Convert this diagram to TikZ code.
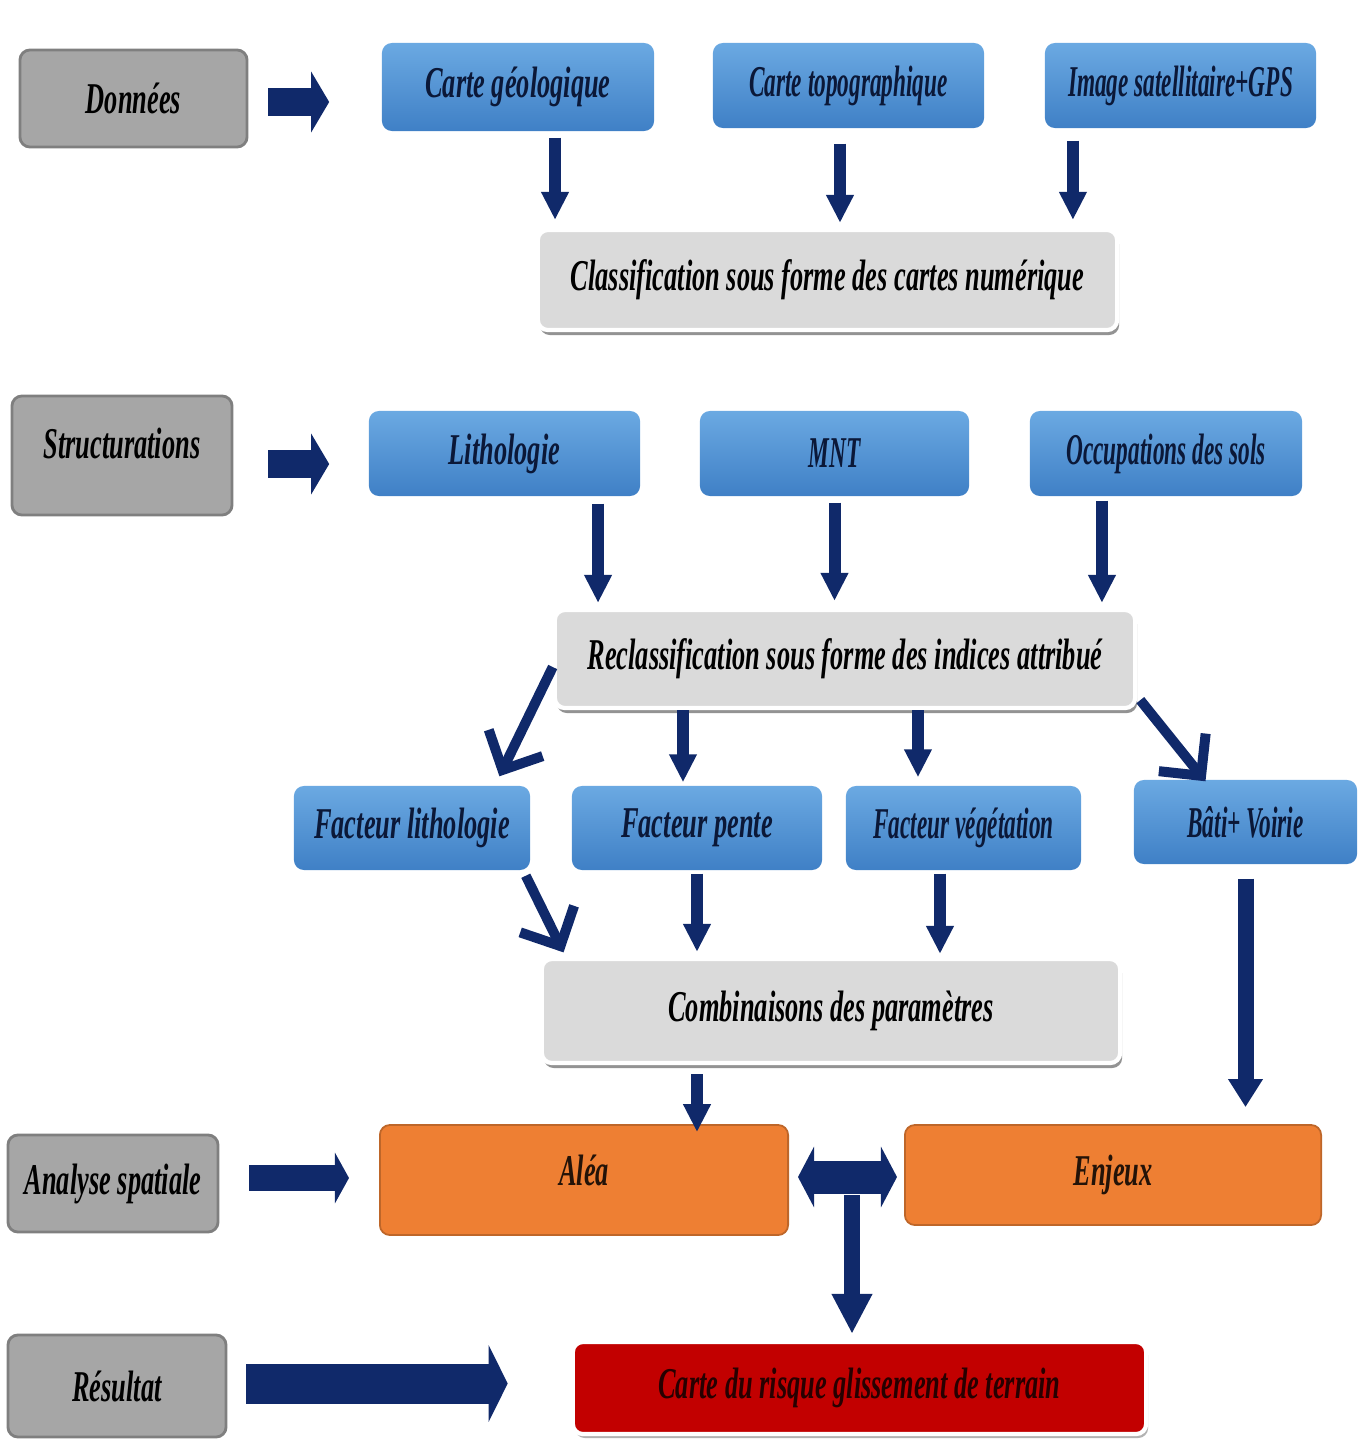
\documentclass[tikz,border=0pt]{standalone}
\usepackage{fontspec}
\setmainfont{Liberation Serif}[FakeStretch=0.6]
\newfontfamily\narrowfont{Liberation Serif}[FakeStretch=0.53]
\usetikzlibrary{arrows.meta,shadows}
\definecolor{navy}{HTML}{10296A}
\definecolor{labgray}{HTML}{A6A6A6}
\definecolor{labedge}{HTML}{7F7F7F}
\definecolor{paleg}{HTML}{DADADA}
\definecolor{bluetop}{HTML}{6BA9E2}
\definecolor{bluebot}{HTML}{3F80C6}
\definecolor{orng}{HTML}{EE7F33}
\definecolor{rouge}{HTML}{C20000}
\definecolor{ink}{HTML}{0B1838}

\begin{document}
\begin{tikzpicture}[x=0.01cm, y=-0.01cm,
    every node/.style={font=\fontsize{12.5}{14}\selectfont\bfseries\itshape, inner sep=0pt, rounded corners=0.1cm},
    narrow/.style={font=\fontsize{12.5}{14}\narrowfont\bfseries\itshape},
    lab/.style={fill=labgray, draw=labedge, line width=0.8pt},
    blu/.style={top color=bluetop, bottom color=bluebot, text=ink},
    pale/.style={fill=paleg, draw=white, line width=1.2pt, drop shadow={shadow xshift=0.02cm, shadow yshift=-0.05cm, fill=gray!85, opacity=1}},
    orange/.style={fill=orng, draw=orng!80!black, line width=0.5pt, text=black!85!orng},
    red/.style={fill=rouge, draw=white, line width=1.2pt, text=black!80!rouge, drop shadow={shadow xshift=0.02cm, shadow yshift=-0.04cm, fill=gray!60, opacity=1}},
    arr/.style={navy, line width=0.12cm, -{Triangle[width=0.26cm,length=0.28cm]}},
    barb/.style={navy, line width=0.1cm, -{Straight Barb[width=0.6cm,length=0.3cm]}},
    fat/.style={navy, line width=0.28cm, -{Triangle[width=0.6cm,length=0.18cm]}}]
    \useasboundingbox (0,0) rectangle (1368,1448);
    \node [lab, minimum width=2.27cm, minimum height=0.97cm] (donnees) at (133.5,98.5) {Données};
    \node [lab, minimum width=2.2cm, minimum height=1.19cm, text depth=0.25cm] (struct) at (122,455.5) {Structurations};
    \node [lab, minimum width=2.1cm, minimum height=0.97cm] (analyse) at (113,1183.5) {Analyse spatiale};
    \node [lab, minimum width=2.18cm, minimum height=1.02cm] (resultat) at (117,1386) {Résultat};
    \node [blu, minimum width=2.72cm, minimum height=0.88cm] (geol) at (518,87) {Carte géologique};
    \node [blu, narrow, minimum width=2.71cm, minimum height=0.85cm] (topo) at (848.5,85.5) {Carte topographique};
    \node [blu, narrow, minimum width=2.71cm, minimum height=0.85cm] (sat) at (1180.5,85.5) {Image satellitaire+GPS};
    \node [pale, minimum width=5.79cm, minimum height=1cm] (classif) at (827.5,280) {Classification sous forme des cartes numérique};
    \node [blu, minimum width=2.71cm, minimum height=0.85cm] (litho) at (504.5,453.5) {Lithologie};
    \node [blu, narrow, minimum width=2.69cm, minimum height=0.85cm] (mnt) at (834.5,453.5) {MNT};
    \node [blu, narrow, minimum width=2.72cm, minimum height=0.85cm] (occup) at (1166,453.5) {Occupations des sols};
    \node [pale, minimum width=5.8cm, minimum height=0.98cm] (reclass) at (845,659) {Reclassification sous forme des indices attribué};
    \node [blu, minimum width=2.36cm, minimum height=0.84cm] (factlitho) at (412,828) {Facteur lithologie};
    \node [blu, minimum width=2.5cm, minimum height=0.84cm] (pente) at (697,828) {Facteur pente};
    \node [blu, narrow, minimum width=2.35cm, minimum height=0.84cm] (vege) at (963.5,828) {Facteur végétation};
    \node [blu, narrow, minimum width=2.23cm, minimum height=0.84cm] (bati) at (1245.5,822) {Bâti+ Voirie};
    \node [pale, minimum width=5.78cm, minimum height=1.04cm] (comb) at (831,1011) {Combinaisons des paramètres};
    \node [orange, minimum width=4.08cm, minimum height=1.1cm, text depth=0.2cm] (alea) at (584,1180) {Aléa};
    \node [orange, minimum width=4.16cm, minimum height=1cm] (enjeux) at (1113,1175) {Enjeux};
    \node [red, minimum width=5.73cm, minimum height=0.92cm] (risque) at (859.5,1388) {Carte du risque glissement de terrain};
    \draw [fat, shorten <=0.2cm, shorten >=0.52cm] ([yshift=-0.035cm]donnees.east) -- ([yshift=-0.035cm]donnees.east -| geol.west);
    \draw [fat, shorten <=0.35cm, shorten >=0.39cm] ([yshift=-0.085cm]struct.east) -- ([yshift=-0.085cm]struct.east -| litho.west);
    \draw [fat, line width=0.26cm, -{Triangle[width=0.5cm,length=0.14cm]}, shorten <=0.3cm, shorten >=0.3cm] ([yshift=0.055cm]analyse.east) -- ([yshift=0.055cm]analyse.east -| alea.west);
    \draw [fat, line width=0.4cm, -{Triangle[width=0.76cm,length=0.19cm]}, shorten <=0.19cm, shorten >=0.63cm] ([yshift=0.025cm]resultat.east) -- ([yshift=0.025cm]resultat.east -| risque.west);
    \draw [fat, line width=0.33cm, {Triangle[width=0.6cm,length=0.16cm]}-{Triangle[width=0.6cm,length=0.16cm]}, shorten <=0.09cm, shorten >=0.07cm] ([yshift=0.03cm]alea.east) -- ([yshift=0.03cm]alea.east -| enjeux.west);
    \coordinate (mid) at (852,1195);
    \draw [fat, line width=0.16cm, -{Triangle[width=0.38cm,length=0.4cm]}, shorten >=0.06cm] (mid) -- (mid |- risque.north);
    \draw [arr, shorten <=0.06cm, shorten >=0.08cm] ([xshift=0.37cm]geol.south) -- ([xshift=0.37cm]geol.south |- classif.north);
    \draw [arr, shorten <=0.15cm, shorten >=0.05cm] ([xshift=-0.085cm]topo.south) -- ([xshift=-0.085cm]topo.south |- classif.north);
    \draw [arr, shorten <=0.12cm, shorten >=0.08cm] ([xshift=-1.075cm]sat.south) -- ([xshift=-1.075cm]sat.south |- classif.north);
    \draw [arr, shorten <=0.07cm, shorten >=0.05cm] ([xshift=0.935cm]litho.south) -- ([xshift=0.935cm]litho.south |- reclass.north);
    \draw [arr, shorten <=0.06cm, shorten >=0.07cm] (mnt.south) -- (mnt.south |- reclass.north);
    \draw [arr, shorten <=0.04cm, shorten >=0.05cm] ([xshift=-0.64cm]occup.south) -- ([xshift=-0.64cm]occup.south |- reclass.north);
    \draw [barb, shorten >=0.1cm] ([yshift=-0.08cm]reclass.west) -- ([xshift=0.83cm]factlitho.north);
    \draw [arr, shorten >=0.03cm] ([xshift=-0.14cm]pente.north |- reclass.south) -- ([xshift=-0.14cm]pente.north);
    \draw [arr, shorten >=0.08cm] ([xshift=-0.455cm]vege.north |- reclass.south) -- ([xshift=-0.455cm]vege.north);
    \draw [barb] ([xshift=0.03cm,yshift=0.1cm]reclass.south east) -- ([xshift=-0.4cm,yshift=-0.02cm]bati.north);
    \draw [barb, shorten >=0.05cm] ([xshift=-0.05cm,yshift=-0.05cm]factlitho.south east) -- ([xshift=0.26cm]comb.north west);
    \draw [arr, shorten <=0.03cm, shorten >=0.05cm] (pente.south) -- (pente.south |- comb.north);
    \draw [arr, shorten <=0.03cm, shorten >=0.03cm] ([xshift=-0.235cm]vege.south) -- ([xshift=-0.235cm]vege.south |- comb.north);
    \draw [arr, shorten <=0.09cm, shorten >=-0.08cm] (comb.south -| pente.south) -- (alea.north -| pente.south);
    \draw [arr, line width=0.16cm, -{Triangle[width=0.33cm,length=0.28cm]}, shorten <=0.14cm, shorten >=0.17cm] (bati.south) -- (bati.south |- enjeux.north);
\end{tikzpicture}
\end{document}
